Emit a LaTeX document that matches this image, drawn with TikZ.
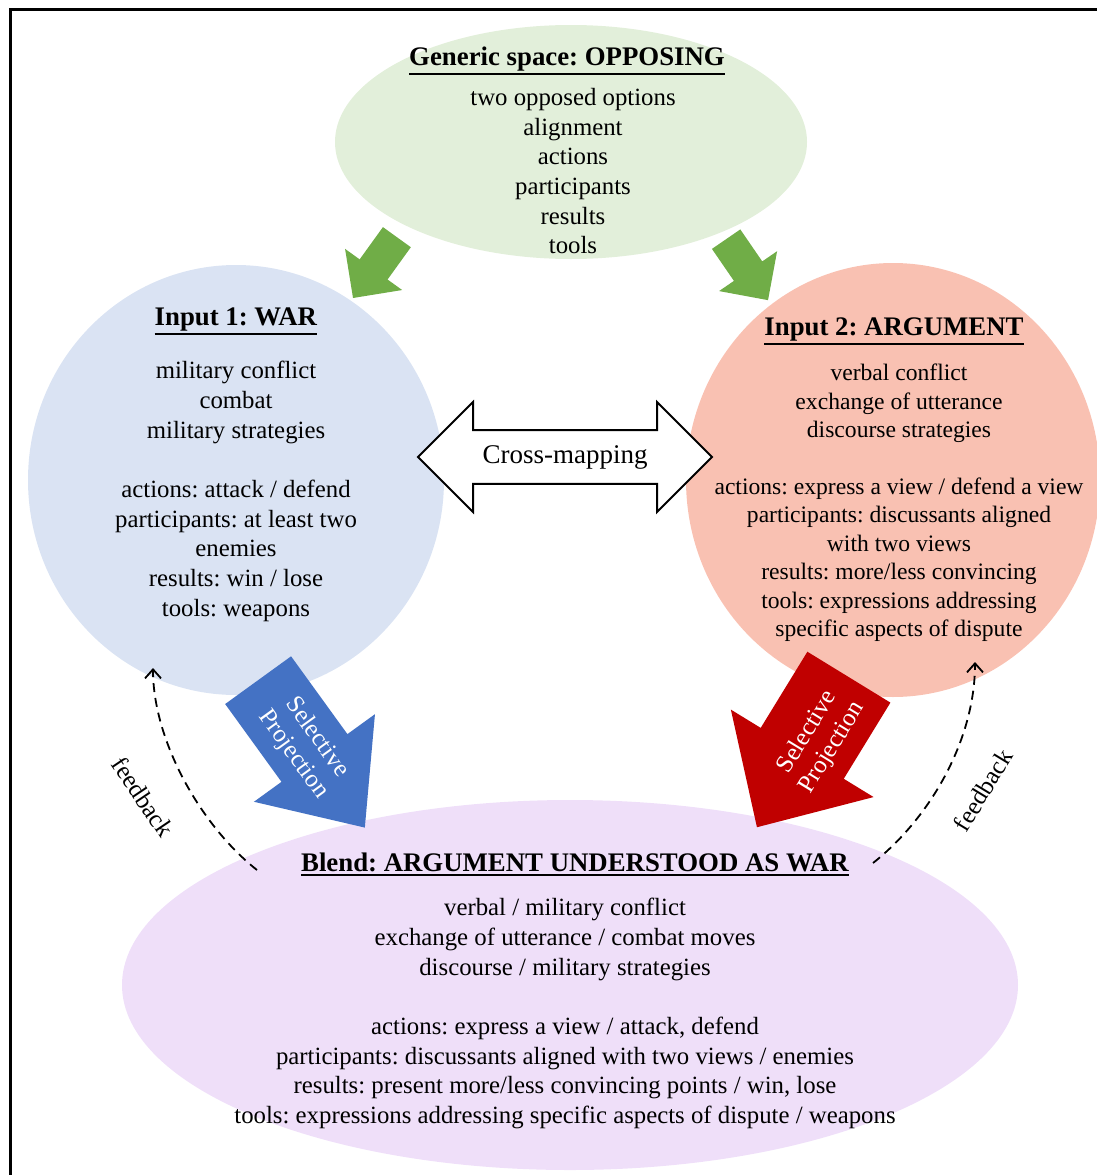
\documentclass[tikz,border=0pt]{standalone}
\usepackage{fontspec}
\setmainfont{Liberation Serif}
\usepackage{xcolor}
\usetikzlibrary{shapes,arrows.meta,positioning}

\definecolor{genfill}{HTML}{E2EFDA}
\definecolor{warfill}{HTML}{DAE3F3}
\definecolor{argfill}{HTML}{F9C1B2}
\definecolor{blendfill}{HTML}{EFDFF9}
\definecolor{gengreen}{HTML}{70AD47}
\definecolor{projblue}{HTML}{4472C4}
\definecolor{projred}{HTML}{C00000}

\frenchspacing
\newcommand{\spacetitle}[1]{\vtop{\hbox{\fontsize{26.8}{30}\selectfont\textbf{#1}}\kern2.5pt\hrule height 1.8pt}}

\begin{document}
\begin{tikzpicture}[x=1pt, y=-1pt,
    space/.style={ellipse, inner sep=0pt},
    title/.style={inner sep=0pt, anchor=base},
    body/.style={font=\fontsize{24.8}{29.7}\selectfont, align=center, inner sep=0pt, anchor=north},
    genarrow/.style={single arrow, fill=gengreen, inner xsep=0pt, inner ysep=17pt, anchor=tail, single arrow head extend=18pt, single arrow tip angle=90},
    projarrow/.style={single arrow, inner xsep=0pt, anchor=tail, single arrow head extend=35pt},
    projtext/.style={font=\fontsize{25}{29}\selectfont, text=white, align=center, inner sep=0pt},
    feedback/.style={dash pattern=on 9pt off 6pt, line width=1.8pt, -{Straight Barb[length=9pt,width=16pt]}},
    fblabel/.style={font=\fontsize{25}{29.7}\selectfont, inner sep=0pt}
]
    \useasboundingbox (0,0) rectangle (1097,1175);
    \draw[line width=3pt] (10,1175) -- (10,9) -- (1097,9);

    % Spaces
    \node[space, fill=genfill, minimum width=472pt, minimum height=234pt] (gen) at (571,142) {};
    \node[space, fill=warfill, minimum width=416pt, minimum height=430pt] (war) at (236,480) {};
    \node[space, fill=argfill, minimum width=414pt, minimum height=434pt] (arg) at (893,480) {};
    \node[space, fill=blendfill, minimum width=896pt, minimum height=370pt] (blend) at (570,985) {};

    % Generic space
    \node[title] (genTitle) at (567,65) {\spacetitle{Generic space: OPPOSING}};
    \node[body] (genBody) at (573,88) {two opposed options\\ alignment\\ actions\\ participants\\ results\\ tools};

    % Input 1
    \node[title] (warTitle) at (236,325) {\spacetitle{Input 1: WAR}};
    \node[body] (warBody) at (236,361) {military conflict\\ combat\\ military strategies\\[29.7pt]
        actions: attack / defend\\ participants: at least two\\ enemies\\ results: win / lose\\ tools: weapons};

    % Input 2
    \node[title] (argTitle) at (894,335) {\spacetitle{Input 2: ARGUMENT}};
    \node[body, font=\fontsize{23.6}{28.4}\selectfont] (argBody) at (899,364) {verbal conflict\\ exchange of utterance\\ discourse strategies\\[28.4pt]
        actions: express a view / defend a view\\ participants: discussants aligned\\ with two views\\
        results: more/less convincing\\ tools: expressions addressing\\ specific aspects of dispute};

    % Blend
    \node[title] (blendTitle) at (575,871) {\spacetitle{Blend: ARGUMENT UNDERSTOOD AS WAR}};
    \node[body] (blendBody) at (565,898) {verbal / military conflict\\ exchange of utterance / combat moves\\ discourse / military strategies\\[29.7pt]
        actions: express a view / attack, defend\\ participants: discussants aligned with two views / enemies\\
        results: present more/less convincing points / win, lose\\ tools: expressions addressing specific aspects of dispute / weapons};

    % Arrows from the generic space
    \node[genarrow, rotate=-125.8, minimum height=75pt] (genToWar) at (397,237) {};
    \node[genarrow, rotate=-55.5, minimum height=74pt] (genToArg) at (726,239) {};

    % Cross-mapping
    \node[double arrow, draw, line width=2pt, fill=white, minimum height=294pt, minimum width=110pt,
        double arrow head extend=26pt, double arrow tip angle=90, inner xsep=0pt, inner ysep=12pt,
        font=\fontsize{27}{30}\selectfont] (cross) at (565,457) {Cross-mapping};

    % Selective projection
    \node[projarrow, fill=projblue, rotate=-54.1, inner ysep=40.5pt, minimum height=182pt, single arrow head extend=34pt, single arrow tip angle=82] (warToBlend) at (258,680) {};
    \node[projtext, rotate=-54.1] (warProj) at (305,746) {Selective\\Projection};
    \node[projarrow, fill=projred, rotate=-121.5, inner ysep=48.5pt, minimum height=176pt, single arrow tip angle=88] (argToBlend) at (849,677) {};
    \node[projtext, rotate=58.5] (argProj) at (820,740) {Selective\\Projection};

    % Feedback
    \coordinate (fbWarStart) at (257,870);
    \coordinate (fbWarEnd) at (153,668);
    \coordinate (fbArgStart) at (873,863);
    \coordinate (fbArgEnd) at (975,662);
    \draw[feedback] (fbWarStart) .. controls (200,825) and (153,740) .. (fbWarEnd);
    \draw[feedback] (fbArgStart) .. controls (930,818) and (975,740) .. (fbArgEnd);
    \node[fblabel, rotate=-56] (fbWar) at (143,797) {feedback};
    \node[fblabel, rotate=58.7] (fbArg) at (983,790) {feedback};
\end{tikzpicture}
\end{document}
